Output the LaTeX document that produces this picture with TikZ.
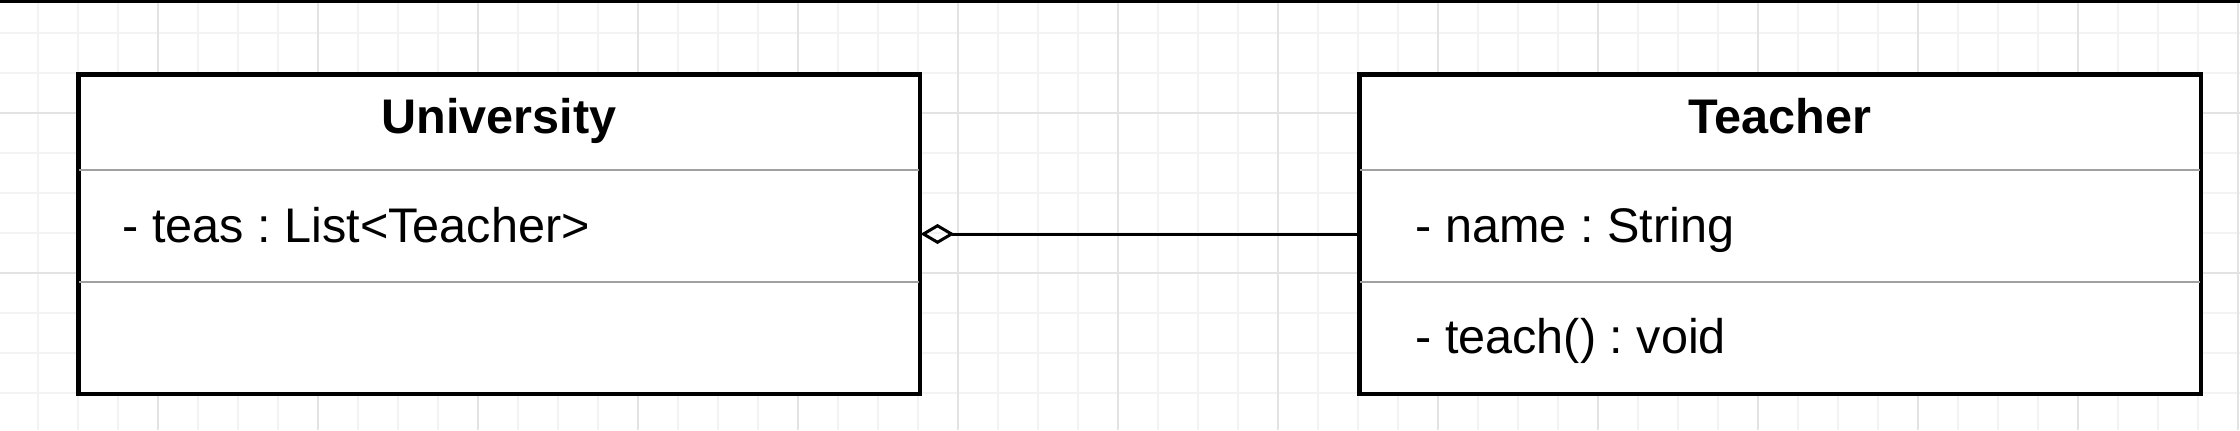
\documentclass[tikz,border=0pt]{standalone}
\usepackage{fontspec}
\setmainfont{Liberation Sans}
\usetikzlibrary{arrows.meta}
\definecolor{gridminor}{HTML}{F3F3F3}
\definecolor{gridmajor}{HTML}{E3E3E3}
\definecolor{divider}{HTML}{A0A0A0}
\tikzset{
  classbox/.style={draw=black, line width=1.5pt, fill=white, rectangle, inner sep=0pt},
  divline/.style={draw=divider, line width=1pt},
  titletext/.style={inner sep=0pt, anchor=base, font=\fontsize{24.3}{29}\selectfont\bfseries},
  membertext/.style={inner sep=0pt, anchor=base west, font=\fontsize{24.3}{29}\selectfont},
  aggr/.style={line width=1.5pt, {Diamond[open,length=17pt,width=10pt]}-},
}
\frenchspacing
\begin{document}
\begin{tikzpicture}[x=0.5pt,y=-0.5pt]
\useasboundingbox (0,0) rectangle (2240,430);
\fill[white] (0,0) rectangle (2240,430);
% grid
\foreach \gx in {38,78,...,2238} \draw[gridminor, line width=0.8pt] (\gx,0) -- (\gx,430);
\foreach \gy in {33,73,...,430} \draw[gridminor, line width=0.8pt] (0,\gy) -- (2240,\gy);
\foreach \gx in {158,318,...,2238} \draw[gridmajor, line width=0.8pt] (\gx,0) -- (\gx,430);
\foreach \gy in {113,273} \draw[gridmajor, line width=0.8pt] (0,\gy) -- (2240,\gy);
\draw[black, line width=1.5pt] (0,1) -- (2240,1);
% classes
\node[classbox, minimum width=420pt, minimum height=159pt] (uni) at (499,234) {};
\node[classbox, minimum width=420pt, minimum height=159pt] (tea) at (1780,234) {};
\draw[divline] (uni.west |- 0,170) -- (uni.east |- 0,170);
\draw[divline] (uni.west |- 0,282) -- (uni.east |- 0,282);
\draw[divline] (tea.west |- 0,170) -- (tea.east |- 0,170);
\draw[divline] (tea.west |- 0,282) -- (tea.east |- 0,282);
\draw[black, line width=1.5pt] (uni.north west) rectangle (uni.south east);
\draw[black, line width=1.5pt] (tea.north west) rectangle (tea.south east);
\node[titletext] (unititle) at (499,133) {University};
\node[titletext] (teatitle) at (1780,133) {Teacher};
\node[membertext] (uniattr) at (122,242) {- teas : List<Teacher>};
\node[membertext] (teaattr) at (1415,242) {- name : String};
\node[membertext] (teameth) at (1415,353) {- teach() : void};
% aggregation
\draw[aggr] (uni.east) -- (tea.west);
\end{tikzpicture}
\end{document}
